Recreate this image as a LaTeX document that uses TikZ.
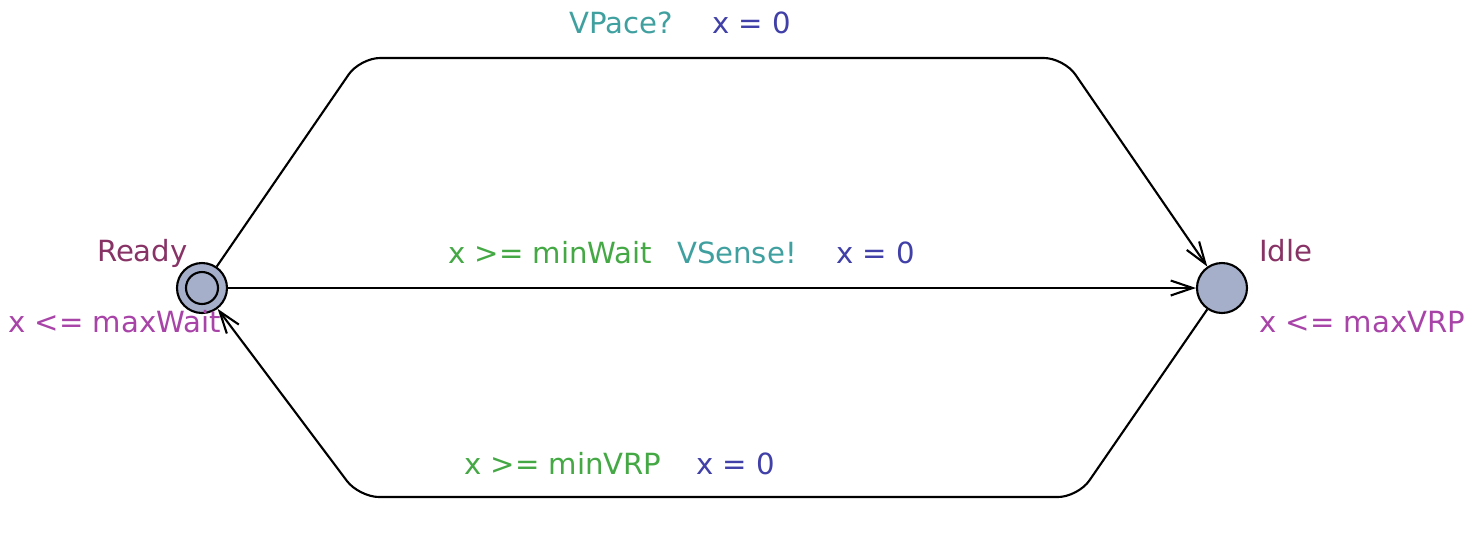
\documentclass[tikz,border=0pt]{standalone}
\usepackage{fontspec}
\setmainfont{DejaVu Sans}
\usetikzlibrary{arrows.meta}

\definecolor{locname}{RGB}{136,51,102}
\definecolor{invcol}{RGB}{168,68,168}
\definecolor{guardcol}{RGB}{68,168,68}
\definecolor{synccol}{RGB}{64,160,160}
\definecolor{updcol}{RGB}{64,64,168}
\definecolor{locfill}{RGB}{165,175,202}

\begin{document}
\begin{tikzpicture}[
    line width=0.6pt,
    loc/.style={circle, draw=black, fill=locfill, minimum size=5mm, inner sep=0pt},
    edge/.style={line width=0.6pt, black, rounded corners=2mm,
      -{Straight Barb[length=2.2mm, width=1.5mm]}},
    lab/.style={font=\fontsize{8.3}{10}\selectfont, anchor=base west, inner sep=0pt},
  ]
  \useasboundingbox (0,0) rectangle (14.74,-5.33);

  \node[loc] (ready) at (2.02,-2.88) {};
  \draw (ready.center) circle[radius=0.16];
  \node[loc] (idle) at (12.22,-2.88) {};

  \coordinate (tl) at (3.60,-0.58);
  \coordinate (tr) at (10.64,-0.58);
  \coordinate (br) at (10.78,-4.97);
  \coordinate (bl) at (3.59,-4.97);

  \draw[edge] (ready) -- (tl) -- (tr) -- (idle);
  \draw[edge] (ready) -- (idle);
  \draw[edge] (idle) -- (br) -- (bl) -- (ready);

  % locations
  \node[lab, locname] at (0.96,-2.61) {Ready};
  \node[lab, invcol] at (0.07,-3.32) {x <= maxWait};
  \node[lab, locname] at (12.58,-2.61) {Idle};
  \node[lab, invcol] at (12.58,-3.32) {x <= maxVRP};

  % transitions
  \node[lab, synccol] at (5.68,-0.33) {VPace?};
  \node[lab, updcol] at (7.11,-0.33) {x = 0};
  \node[lab, guardcol] at (4.47,-2.63) {x >= minWait};
  \node[lab, synccol] at (6.76,-2.63) {VSense!};
  \node[lab, updcol] at (8.35,-2.63) {x = 0};
  \node[lab, guardcol] at (4.63,-4.74) {x >= minVRP};
  \node[lab, updcol] at (6.95,-4.74) {x = 0};
\end{tikzpicture}
\end{document}
